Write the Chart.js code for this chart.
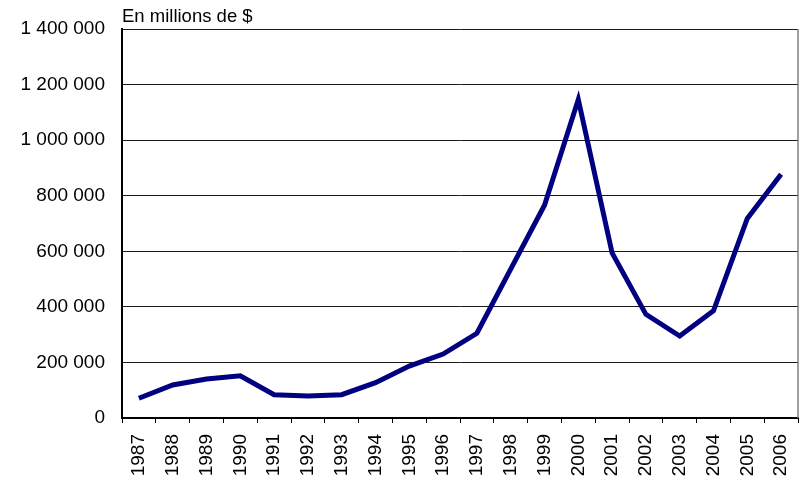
<!DOCTYPE html>
<html>
<head>
<meta charset="utf-8">
<script src="https://cdn.jsdelivr.net/npm/chart.js@4"></script>
<style>
  html, body { margin: 0; padding: 0; background: #fff; }
  #wrap { width: 810px; height: 484px; position: relative; }
</style>
</head>
<body>
<div id="wrap"><canvas id="c" width="810" height="484"></canvas></div>
<script>
// Years shown on the horizontal axis
const years = ['1987','1988','1989','1990','1991','1992','1993','1994','1995','1996',
               '1997','1998','1999','2000','2001','2002','2003','2004','2005','2006'];

// Amounts, in millions of dollars
const amounts = [71000, 119000, 140000, 152000, 84000, 79000, 84000, 127000, 187000, 230000,
                 305000, 536000, 766000, 1146000, 594000, 373000, 295000, 386000, 718000, 877000];

// Vertical axis range and step
const yMin = 0;
const yMax = 1400000;
const yStep = 200000;

const unitLabel = 'En millions de $';

function spaced(v) {
  return String(v).replace(/\B(?=(\d{3})+(?!\d))/g, ' ');
}

// Unit caption above the plot and the thin frame on the right side
const framePlugin = {
  id: 'frame',
  afterDraw(chart) {
    const { ctx, chartArea: a } = chart;
    ctx.save();
    ctx.strokeStyle = '#808080';
    ctx.lineWidth = 1.5;
    ctx.beginPath();
    ctx.moveTo(a.right, a.top);
    ctx.lineTo(a.right, a.bottom);
    ctx.stroke();
    ctx.fillStyle = '#000';
    ctx.font = '18.5px "Liberation Sans", Arial, sans-serif';
    ctx.textBaseline = 'alphabetic';
    ctx.textAlign = 'left';
    ctx.fillText(unitLabel, a.left, 22);
    ctx.restore();
  }
};

new Chart(document.getElementById('c'), {
  type: 'line',
  data: {
    labels: years,
    datasets: [{
      data: amounts,
      borderColor: '#000080',
      borderWidth: 5,
      pointRadius: 0,
      tension: 0,
      fill: false
    }]
  },
  options: {
    responsive: false,
    animation: false,
    layout: { padding: { top: 29, right: 12, left: 0, bottom: 0 } },
    plugins: { legend: { display: false }, tooltip: { enabled: false } },
    scales: {
      x: {
        offset: true,
        grid: {
          offset: true,
          drawOnChartArea: false,
          drawTicks: true,
          tickLength: 5,
          tickWidth: 1,
          tickColor: '#000'
        },
        border: { display: true, color: '#000', width: 2 },
        ticks: {
          autoSkip: false,
          minRotation: 90,
          maxRotation: 90,
          padding: 11,
          color: '#000',
          font: { family: '"Liberation Sans Narrow", "Liberation Sans", Arial, sans-serif', size: 19 }
        },
        afterFit(scale) {
          scale.height = 66;
          scale.paddingLeft = 0;
          scale.paddingRight = 0;
        }
      },
      y: {
        min: yMin,
        max: yMax,
        grid: {
          color: '#1a1a1a',
          lineWidth: 1,
          drawTicks: false
        },
        border: { display: true, color: '#000', width: 2 },
        ticks: {
          stepSize: yStep,
          padding: 17,
          color: '#000',
          font: { family: '"Liberation Sans", Arial, sans-serif', size: 19 },
          callback: (v) => spaced(v)
        },
        afterFit(scale) { scale.width = 122; }
      }
    }
  },
  plugins: [framePlugin]
});
</script>
</body>
</html>
